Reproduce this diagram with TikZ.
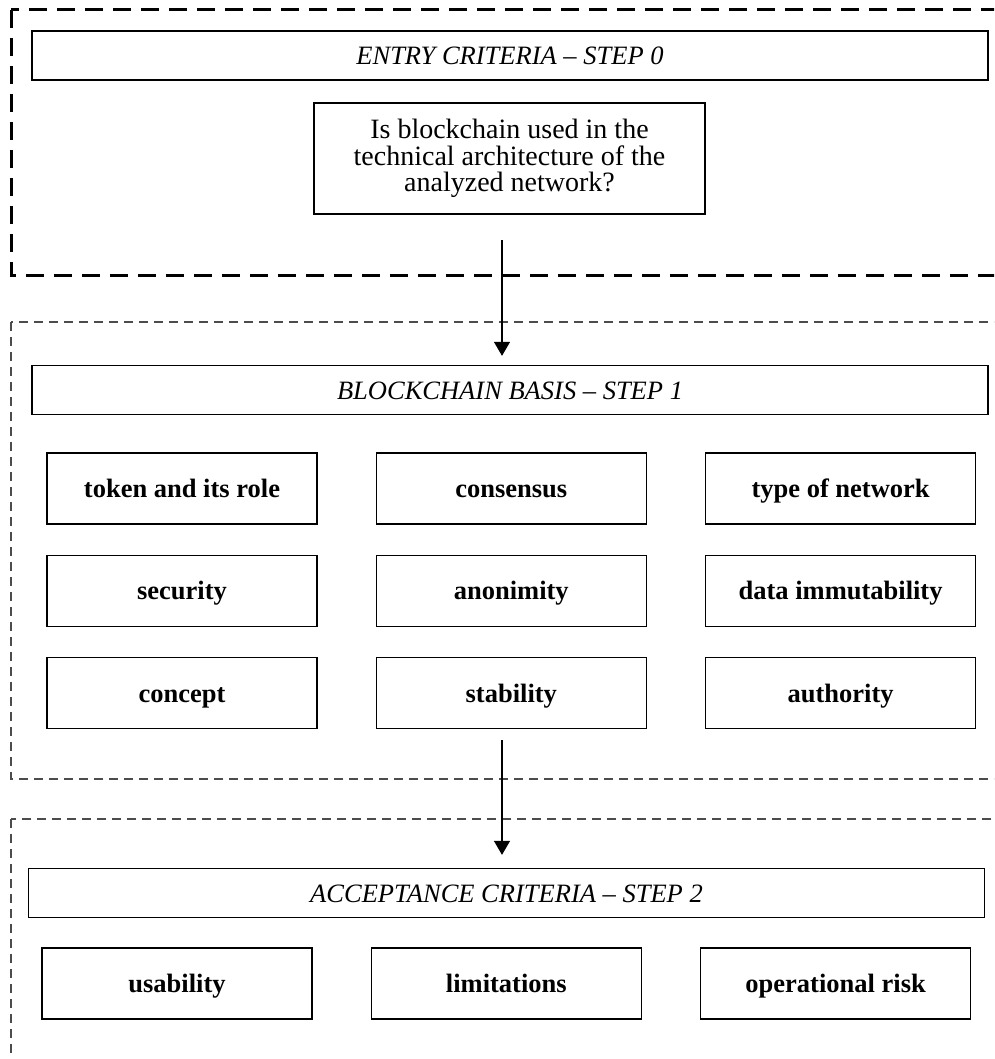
\documentclass[tikz,border=0pt]{standalone}
\usepackage{fontspec}
\setmainfont{Liberation Serif}
\usetikzlibrary{positioning,arrows.meta}
\tikzset{
  frame/.style={line width=1.3pt,draw=black!70,dash pattern=on 9pt off 6pt},
  bigframe/.style={line width=3pt,dash pattern=on 18pt off 10pt},
  hdr/.style={draw,line width=1.3pt,minimum width=956pt,minimum height=49pt,inner sep=0pt,text height=19pt,text depth=0pt,font=\fontsize{26.5}{27}\selectfont\itshape},
  qbox/.style={draw,line width=2.5pt,minimum width=391pt,minimum height=111pt,align=center,font=\fontsize{28}{26.5}\selectfont},
  cell/.style={draw,line width=1.3pt,minimum width=270pt,minimum height=71pt,inner sep=0pt,text height=21pt,text depth=3pt,font=\fontsize{26.5}{27}\selectfont\bfseries},
  arr/.style={-{Triangle[width=16pt,length=14pt]},line width=1.2pt}
}
\begin{document}
\begin{tikzpicture}[x=1pt,y=-1pt]
    \clip (0,0) rectangle (994,1059);
    \draw[bigframe] (11,10) rectangle (1010,275);
    \draw[frame] (11,322) rectangle (1010,779);
    \draw[frame] (11,819) rectangle (1010,1090);
    \node[hdr] (h0) at (510,55.5) {ENTRY CRITERIA -- STEP 0};
    \node[qbox] (q) at (509.5,158.5) {Is blockchain used in the\\technical architecture of the\\analyzed network?};
    \node[hdr] (h1) at (510,390) {BLOCKCHAIN BASIS -- STEP 1};
    \node[cell] (c11) at (182,488.5) {token and its role};
    \node[cell,right=58pt of c11] (c12) {consensus};
    \node[cell,right=58pt of c12] (c13) {type of network};
    \node[cell,below=30pt of c11] (c21) {security};
    \node[cell,below=30pt of c12] (c22) {anonimity};
    \node[cell,below=30pt of c13] (c23) {data immutability};
    \node[cell,below=30pt of c21] (c31) {concept};
    \node[cell,below=30pt of c22] (c32) {stability};
    \node[cell,below=30pt of c23] (c33) {authority};
    \node[hdr] (h2) at (506.5,893) {ACCEPTANCE CRITERIA -- STEP 2};
    \node[cell] (d1) at (177,983.5) {usability};
    \node[cell,right=58pt of d1] (d2) {limitations};
    \node[cell,right=58pt of d2] (d3) {operational risk};
    \coordinate (ax) at (502,0);
    \draw[arr,shorten <=25pt,shorten >=9pt] (q.south -| ax) -- (h1.north -| ax);
    \draw[arr,shorten <=11pt,shorten >=13pt] (c32.south -| ax) -- (h2.north -| ax);
\end{tikzpicture}
\end{document}
